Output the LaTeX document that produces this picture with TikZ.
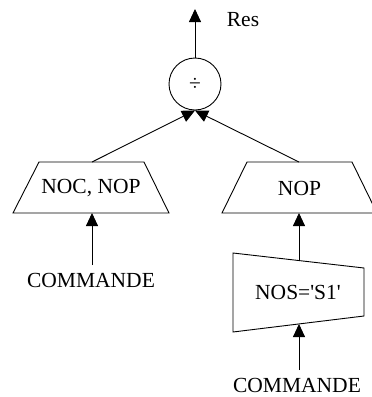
\documentclass[tikz,border=0pt]{standalone}
\usepackage{fontspec}
\setmainfont{Liberation Serif}
\usetikzlibrary{arrows.meta}
\begin{document}
\begin{tikzpicture}[x=1pt,y=-1pt,
  lbl/.style={font=\fontsize{21.5}{24}\selectfont, inner sep=0pt},
  arr/.style={-{Triangle[length=13pt,width=12pt]}, line width=0.9pt},
  shp/.style={draw, line width=0.9pt}]
\useasboundingbox (0,0) rectangle (372,397);
\clip (0,0) rectangle (372,397);
% divide circle
\node[shp, circle, minimum size=52pt, inner sep=0pt, font=\fontsize{21.5}{24}\selectfont] (div) at (195,84) {÷};
\coordinate (restip) at (195,9);
\node[lbl] (res) at (243,20) {Res};
\draw[arr] (div.north) -- (restip);
% left trapezoid
\draw[shp] (39,162) -- (144,162) -- (169,213) -- (13,213) -- cycle;
\node[lbl] (t1) at (91,188) {NOC, NOP};
\coordinate (t1top) at (92,162);
\coordinate (t1bot) at (92,213);
% right trapezoid
\draw[shp] (247,162) -- (352,162) -- (377,213) -- (222,213) -- cycle;
\node[lbl] (t2) at (299.5,188) {NOP};
\coordinate (t2top) at (299,162);
\coordinate (t2bot) at (299,213);
% NOS box
\draw[shp] (233,253) -- (364,268) -- (364,316) -- (233,332) -- cycle;
\node[lbl] (nos) at (298,292) {NOS=\textquotesingle S1\textquotesingle};
\coordinate (nostop) at (299,260.6);
\coordinate (nosbot) at (299,324);
% COMMANDE labels
\node[lbl] (c1) at (91,280) {COMMANDE};
\coordinate (c1top) at (92,265);
\node[lbl] (c2) at (297,385) {COMMANDE};
\coordinate (c2top) at (299,370);
% connectors
\draw[arr] (t1top) -- (div.south);
\draw[arr] (t2top) -- (div.south);
\draw[arr] (c1top) -- (t1bot);
\draw[arr] (nostop) -- (t2bot);
\draw[arr] (c2top) -- (nosbot);
\end{tikzpicture}
\end{document}
